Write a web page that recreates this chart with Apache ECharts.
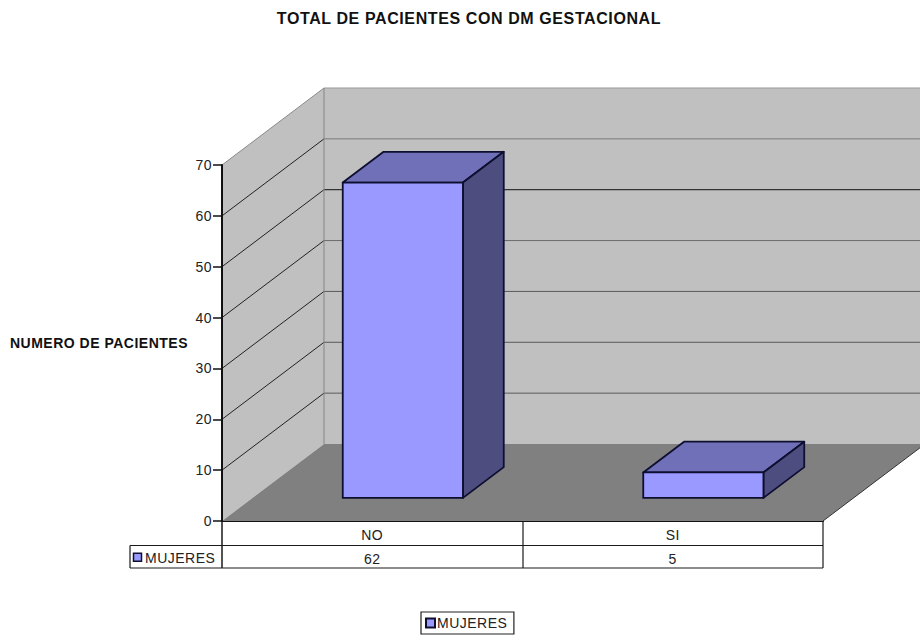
<!DOCTYPE html>
<html>
<head>
<meta charset="utf-8">
<style>
html,body{margin:0;padding:0;background:#fff}
#chart{width:920px;height:639px}
/* Tracking for the chart's wide lettering */
#chart text{letter-spacing:0.5px}
#chart text[style*="16px"]{letter-spacing:0.6px}
</style>
<script src="https://cdn.jsdelivr.net/npm/echarts@6/dist/echarts.min.js"></script>
</head>
<body>
<div id="chart"></div>
<script>
// Patients with gestational diabetes, by answer
const categories = ['NO', 'SI'];
const seriesName = 'MUJERES';
const mujeres = [62, 5];
const yTicks = [0, 10, 20, 30, 40, 50, 60, 70];

// Oblique projection of the chart's depth, in pixels
const DEPTH_X = 102, DEPTH_Y = -77;
const BAR_NEAR = 0.3, BAR_FAR = 0.7, BAR_WIDTH = 0.4;
const TABLE_ROW = 24.5, TABLE_HEAD = 92;
const FONT = '"Liberation Sans", Arial, sans-serif';
const LINE = '#1a1a1a', TEXT = '#222';
const BACK_GRID = { 70: '#999', 60: '#7a7a7a', 50: '#111', 40: '#6a6a6a', 30: '#5a5a5a', 20: '#5a5a5a', 10: '#5a5a5a' };

const poly = (points, fill, stroke, lineWidth) => ({
  type: 'polygon',
  shape: { points },
  style: { fill, stroke: stroke || null, lineWidth: lineWidth || 0, lineJoin: 'round' }
});
const seg = (x1, y1, x2, y2, stroke, lineWidth) => ({
  type: 'line',
  shape: { x1, y1, x2, y2 },
  style: { stroke, lineWidth: lineWidth || 1 }
});

// Side wall, back wall, floor and the gridlines running across them
function renderWalls(params, api) {
  const w = api.size([1, 0])[0];
  const x0 = api.coord([0, 0])[0] - w / 2;
  const x1 = x0 + w * categories.length;
  const y0 = api.coord([0, 0])[1];
  const maxTick = yTicks[yTicks.length - 1];
  const yTop = api.coord([0, maxTick])[1];
  const dx = DEPTH_X, dy = DEPTH_Y;
  const children = [
    poly([[x0 + dx, yTop + dy], [x1 + dx, yTop + dy], [x1 + dx, y0 + dy], [x0 + dx, y0 + dy]], '#c0c0c0'),
    poly([[x0, yTop], [x0 + dx, yTop + dy], [x0 + dx, y0 + dy], [x0, y0]], '#c0c0c0'),
    poly([[x0, y0], [x0 + dx, y0 + dy], [x1 + dx, y0 + dy], [x1, y0]], '#808080')
  ];
  yTicks.forEach(t => {
    if (t === 0) return;
    const y = api.coord([0, t])[1];
    children.push(seg(x0, y, x0 + dx, y + dy, t === maxTick ? '#8a8a8a' : '#222'));
    children.push(seg(x0 + dx, y + dy, x1 + dx, y + dy, BACK_GRID[t]));
  });
  children.push(seg(x0 + dx, yTop + dy, x0 + dx, y0 + dy, '#858585'));
  children.push(seg(x1, y0, x1 + dx, y0 + dy, '#333'));
  return { type: 'group', children };
}

// One box: top, side and front faces
function renderBar(params, api) {
  const base = api.coord([api.value(0), 0]);
  const top = api.coord([api.value(0), api.value(1)]);
  const w = api.size([1, 0])[0] * BAR_WIDTH;
  const nx = DEPTH_X * BAR_NEAR, ny = DEPTH_Y * BAR_NEAR;
  const bx = DEPTH_X * (BAR_FAR - BAR_NEAR), by = DEPTH_Y * (BAR_FAR - BAR_NEAR);
  const l = base[0] + nx - w / 2, r = base[0] + nx + w / 2;
  const b = base[1] + ny, t = top[1] + ny;
  const edge = '#0e0e30';
  return {
    type: 'group',
    children: [
      poly([[l, t], [r, t], [r + bx, t + by], [l + bx, t + by]], '#7070b8', edge, 1.8),
      poly([[r, t], [r + bx, t + by], [r + bx, b + by], [r, b]], '#4d4d80', edge, 1.8),
      poly([[l, t], [r, t], [r, b], [l, b]], '#9999ff', edge, 1.8)
    ]
  };
}

// Data table below the plot: grid lines and the series key
function renderTableFrame(params, api) {
  const w = api.size([1, 0])[0];
  const x0 = api.coord([0, 0])[0] - w / 2;
  const y0 = api.coord([0, 0])[1];
  const x1 = x0 + w * categories.length;
  const r1 = y0 + TABLE_ROW, r2 = r1 + TABLE_ROW - 2;
  const xl = x0 - TABLE_HEAD;
  const children = [
    seg(xl, r1, x1, r1, LINE, 1.2),
    seg(xl, r2, x1, r2, LINE, 1.2),
    seg(xl, r1, xl, r2, LINE, 1.2),
    seg(x0, y0, x0, r2, LINE, 1.5),
    seg(x1, y0, x1, r2, LINE, 1.2)
  ];
  for (let i = 1; i < categories.length; i++) {
    children.push(seg(x0 + w * i + 0.5, y0, x0 + w * i + 0.5, r2, LINE, 1.2));
  }
  children.push({
    type: 'rect',
    shape: { x: xl + 3.5, y: (r1 + r2) / 2 - 3.5, width: 8, height: 8 },
    style: { fill: '#9999ff', stroke: '#0e0e30', lineWidth: 1.5 }
  });
  children.push({
    type: 'text',
    style: { x: xl + 15, y: (r1 + r2) / 2 + 1.5, text: seriesName, fill: TEXT, font: '14px ' + FONT, verticalAlign: 'middle' }
  });
  return { type: 'group', children };
}

// Value cell in the lower table row
function renderTableValue(params, api) {
  const p = api.coord([api.value(0), 0]);
  return {
    type: 'text',
    style: {
      x: p[0], y: p[1] + TABLE_ROW + 13,
      text: String(api.value(1)), fill: TEXT,
      font: '14px ' + FONT, align: 'center', verticalAlign: 'middle'
    }
  };
}

const rows = categories.map((c, i) => [i, mujeres[i]]);

const chart = echarts.init(document.getElementById('chart'), null, { renderer: 'svg' });
chart.setOption({
  animation: false,
  backgroundColor: '#ffffff',
  title: {
    text: 'TOTAL DE PACIENTES CON DM GESTACIONAL',
    left: 464, top: 5, textAlign: 'center',
    textStyle: { fontFamily: FONT, fontSize: 16, fontWeight: 'bold', color: '#111' }
  },
  legend: {
    left: 421, top: 612,
    padding: [4, 10, 4, 4],
    borderColor: '#222', borderWidth: 1.2, backgroundColor: '#fff',
    itemWidth: 9, itemHeight: 9, itemGap: 0,
    icon: 'rect',
    data: [seriesName],
    selectedMode: false,
    textStyle: { fontFamily: FONT, fontSize: 14, color: TEXT, padding: [1, 0, 0, -3] }
  },
  grid: { left: 222, right: 97, top: 165, bottom: 118 },
  xAxis: {
    type: 'category',
    data: categories,
    axisLine: { show: true, lineStyle: { color: '#111', width: 2 } },
    axisTick: { show: false },
    axisLabel: { margin: 7, fontFamily: FONT, fontSize: 14, color: TEXT }
  },
  yAxis: {
    type: 'value',
    min: 0, max: 70, interval: 10,
    z: 10,
    name: 'NUMERO DE PACIENTES',
    nameLocation: 'middle',
    nameRotate: 0,
    nameGap: 34,
    nameTextStyle: { fontFamily: FONT, fontSize: 14, fontWeight: 'bold', color: '#111', padding: [2, 0, 0, 0] },
    axisLine: { show: true, lineStyle: { color: '#111', width: 2 } },
    axisTick: { show: true, length: 9, lineStyle: { color: '#111', width: 1.5 } },
    axisLabel: { margin: 10, fontFamily: FONT, fontSize: 14, color: TEXT },
    splitLine: { show: false }
  },
  series: [
    { type: 'custom', silent: true, z: 1, clip: false, coordinateSystem: 'cartesian2d', data: [[0, 0]], renderItem: renderWalls },
    {
      type: 'custom', name: seriesName, z: 3, clip: false,
      itemStyle: { color: '#9999ff', borderColor: '#0e0e30', borderWidth: 1.5 },
      encode: { x: 0, y: 1 }, data: rows, renderItem: renderBar
    },
    { type: 'custom', silent: true, z: 4, clip: false, data: [[0, 0]], renderItem: renderTableFrame },
    { type: 'custom', silent: true, z: 4, clip: false, encode: { x: 0, y: 1 }, data: rows, renderItem: renderTableValue }
  ]
});
</script>
</body>
</html>
